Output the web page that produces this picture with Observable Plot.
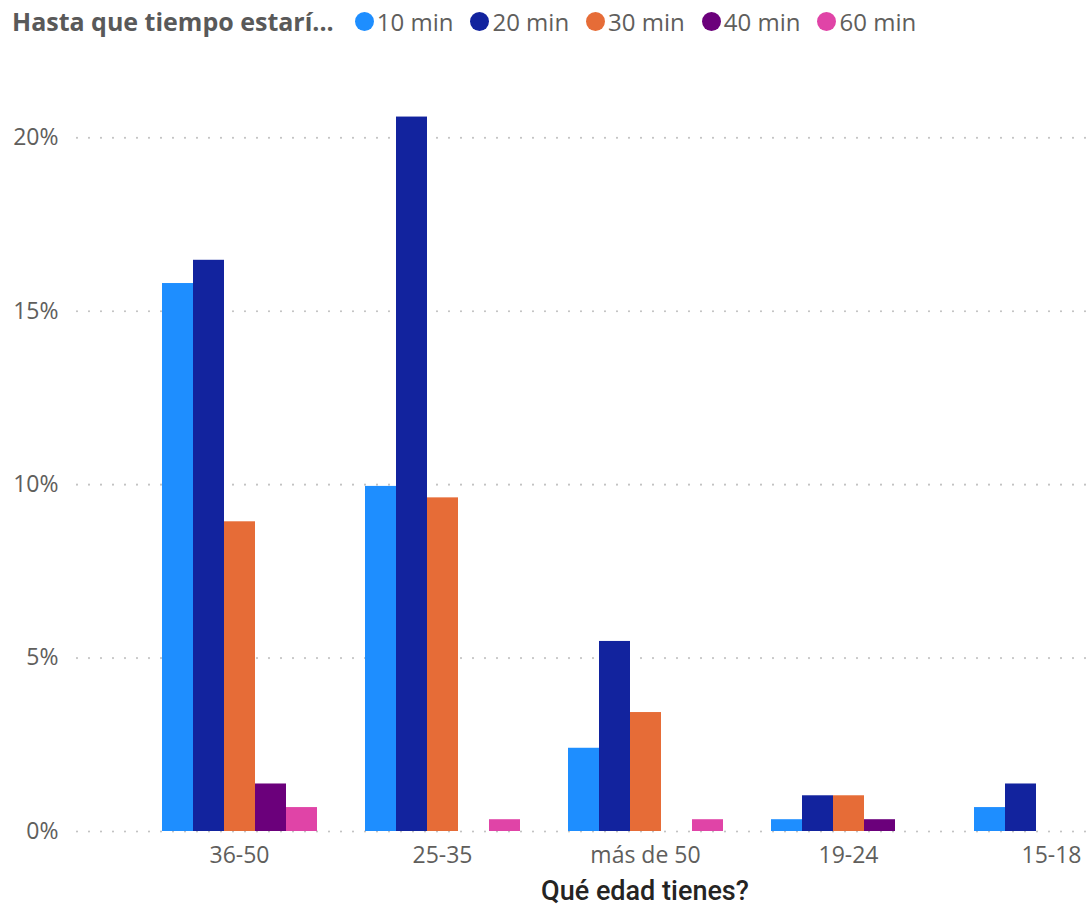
<!DOCTYPE html>
<html><head><meta charset="utf-8">
<script src="https://cdn.jsdelivr.net/npm/d3@7"></script>
<script src="https://cdn.jsdelivr.net/npm/@observablehq/plot@0.6"></script>
<style>
body{margin:0;background:#fff;overflow:hidden;font-family:"Open Sans",sans-serif}
#legend{height:42px;display:flex;align-items:center;padding-left:12px;white-space:nowrap}
#legend .title{font-weight:700;font-size:25px;color:#595959;margin-right:21px}
#legend .item{display:flex;align-items:center;margin-right:17px;font-size:24px;color:#605E5C}
#legend .dot{width:19px;height:19px;border-radius:50%;margin-right:3px}
#chart{position:relative;width:1091px;height:833px;overflow:hidden}
#chart svg{position:absolute;left:0;top:0;max-width:none !important;width:1215px !important;height:833px !important}
#xtitle{width:1136px;padding-left:77px;text-align:center;font-family:Roboto,sans-serif;font-weight:500;font-size:27px;color:#252423;height:33px;line-height:33px}
</style></head><body>
<div id="legend"></div>
<div id="chart"></div>
<div id="xtitle">Qué edad tienes?</div>
<script>
// Data (percent of respondents)
const legendTitle = "Hasta que tiempo estarí...";
const groups = ["36-50", "25-35", "más de 50", "19-24", "15-18"];
const series = ["10 min", "20 min", "30 min", "40 min", "60 min"];
const colors = ["#1E8EFF", "#12239E", "#E66C37", "#6B007B", "#E044A7"];
const v10 = [15.8, 9.95, 2.4, 0.34, 0.69];
const v20 = [16.47, 20.6, 5.48, 1.03, 1.37];
const v30 = [8.93, 9.62, 3.43, 1.03, 0];
const v40 = [1.37, 0, 0, 0.34, 0];
const v60 = [0.69, 0.34, 0.34, 0, 0];
const yTicks = [0, 5, 10, 15, 20];

const seriesValues = [v10, v20, v30, v40, v60];
const rows = [];
groups.forEach((g, gi) => series.forEach((s, si) => {
  const v = seriesValues[si][gi];
  if (v > 0) rows.push({group: g, series: s, value: v});
}));

// Legend
const legend = document.getElementById("legend");
const t = document.createElement("span"); t.className = "title"; t.textContent = legendTitle; legend.appendChild(t);
series.forEach((s, i) => {
  const it = document.createElement("span"); it.className = "item";
  const d = document.createElement("span"); d.className = "dot"; d.style.background = colors[i];
  const l = document.createElement("span"); l.textContent = s;
  it.appendChild(d); it.appendChild(l); legend.appendChild(it);
});

const W = 1215, H = 833;
const M = {marginLeft: 77, marginRight: 2, marginTop: 26, marginBottom: 44};
const yDomain = [0, 22];
const band = {paddingInner: 0.224, paddingOuter: 0.41};

const bg = Plot.plot({
  width: W, height: H, ...M,
  style: {fontFamily: "Open Sans, sans-serif", fontSize: "23px", color: "#605E5C", background: "transparent"},
  x: {type: "band", domain: groups, ...band, tickSize: 0, tickPadding: 15, label: null},
  y: {domain: yDomain, ticks: yTicks, tickFormat: d => d + "%", tickSize: 0, tickPadding: 19, label: null},
  marks: [
    Plot.ruleY(yTicks, {stroke: "#c3c3c3", strokeWidth: 2.2, strokeDasharray: "0,12", strokeLinecap: "round"})
  ]
});

const fg = Plot.plot({
  width: W, height: H, ...M,
  style: {background: "transparent"},
  facet: {data: rows, x: "group"},
  fx: {domain: groups, ...band, axis: null, label: null},
  x: {domain: series, padding: 0, axis: null},
  y: {domain: yDomain, axis: null},
  color: {domain: series, range: colors},
  marks: [
    Plot.barY(rows, {x: "series", y: "value", fill: "series"})
  ]
});

const chart = document.getElementById("chart");
chart.appendChild(bg);
chart.appendChild(fg);
</script>
</body></html>
